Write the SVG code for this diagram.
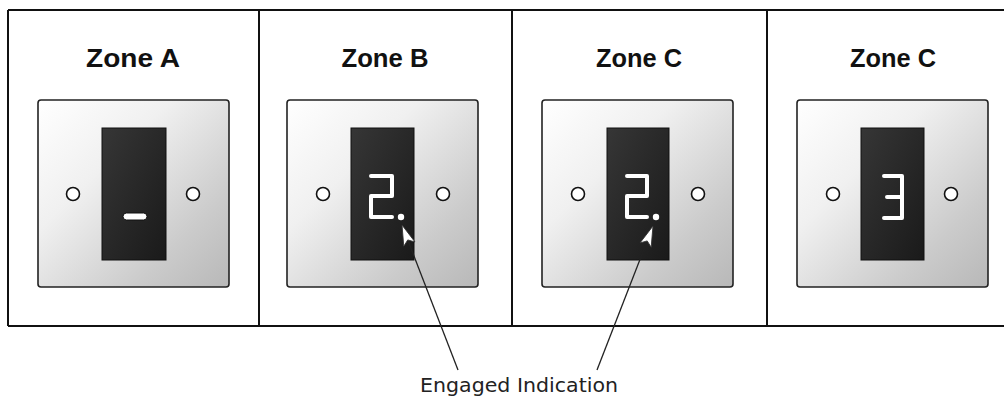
<svg xmlns="http://www.w3.org/2000/svg" width="1004" height="397" viewBox="0 0 1004 397">
<style>
.title{font-family:"Liberation Sans",Arial,sans-serif;font-weight:bold;font-size:26px;fill:#111;text-anchor:middle}
.plate{fill:url(#plateGrad);stroke:#222;stroke-width:1.6}
.disp{fill:url(#dispGrad);stroke:#111;stroke-width:1}
.led{fill:#fff;stroke:#111;stroke-width:1.6}
.seg{fill:none;stroke:#fff;stroke-width:4;stroke-linecap:round;stroke-linejoin:round}
.frame{fill:none;stroke:#111;stroke-width:2}
.conn{stroke:#222;stroke-width:1.3;fill:none}
.label{font-family:"DejaVu Sans",Verdana,sans-serif;font-size:19px;fill:#222}
</style>
<defs>
<linearGradient id="plateGrad" x1="0" y1="0" x2="1" y2="1">
<stop offset="0" stop-color="#ffffff"/>
<stop offset="0.35" stop-color="#f0f0f0"/>
<stop offset="0.75" stop-color="#cbcbcb"/>
<stop offset="1" stop-color="#b8b8b8"/>
</linearGradient>
<linearGradient id="dispGrad" x1="0" y1="0" x2="1" y2="1">
<stop offset="0" stop-color="#363636"/>
<stop offset="1" stop-color="#1a1a1a"/>
</linearGradient>
<marker id="arr" viewBox="0 0 22 14" refX="21" refY="7" markerWidth="22" markerHeight="14" markerUnits="userSpaceOnUse" orient="auto">
<path d="M0.5,1 L21,7 L0.5,13 L5,7 Z" fill="#fff" stroke="#333" stroke-width="0.8"/>
</marker>
</defs>
<rect width="1004" height="397" fill="#fff"/>
<g id="frame">
<line class="frame" x1="8" y1="10" x2="1004" y2="10"/>
<line class="frame" x1="8" y1="326" x2="1004" y2="326"/>
<line class="frame" x1="8" y1="10" x2="8" y2="326"/>
<line class="frame" x1="259" y1="10" x2="259" y2="326"/>
<line class="frame" x1="512" y1="10" x2="512" y2="326"/>
<line class="frame" x1="767" y1="10" x2="767" y2="326"/>
</g>
<g id="zoneA">
<text class="title" x="133" y="67" textLength="94" lengthAdjust="spacingAndGlyphs">Zone A</text>
<rect class="plate" x="38" y="100" width="191" height="187" rx="3"/>
<rect class="disp" x="102" y="128" width="64" height="132"/>
<circle class="led" cx="73" cy="194" r="6.5"/>
<circle class="led" cx="193" cy="194" r="6.5"/>
<rect x="123" y="213" width="24" height="7" rx="3.5" fill="#fff" stroke="#111" stroke-width="1"/>
</g>
<g id="zoneB">
<text class="title" x="385" y="67" textLength="87" lengthAdjust="spacingAndGlyphs">Zone B</text>
<rect class="plate" x="287" y="100" width="191" height="187" rx="3"/>
<rect class="disp" x="351" y="128" width="63" height="132"/>
<circle class="led" cx="323" cy="194" r="6.5"/>
<circle class="led" cx="443" cy="194" r="6.5"/>
<path class="seg" d="M371,176 H392 V196 H371 V217 H392"/>
<circle cx="401" cy="217" r="3.2" fill="#fff"/>
</g>
<g id="zoneC">
<text class="title" x="639" y="67" textLength="86" lengthAdjust="spacingAndGlyphs">Zone C</text>
<rect class="plate" x="542" y="100" width="191" height="187" rx="3"/>
<rect class="disp" x="607" y="128" width="62" height="132"/>
<circle class="led" cx="578" cy="194" r="6.5"/>
<circle class="led" cx="698" cy="194" r="6.5"/>
<path class="seg" d="M627,176 H647 V196 H627 V217 H647"/>
<circle cx="656" cy="217" r="3.2" fill="#fff"/>
</g>
<g id="zoneD">
<text class="title" x="893" y="67" textLength="86" lengthAdjust="spacingAndGlyphs">Zone C</text>
<rect class="plate" x="797" y="100" width="191" height="187" rx="3"/>
<rect class="disp" x="861" y="128" width="63" height="132"/>
<circle class="led" cx="833" cy="194" r="6.5"/>
<circle class="led" cx="951" cy="194" r="6.5"/>
<path class="seg" d="M884,176 H902 V218 H884 M887,197 H902"/>
</g>
<g id="connectors">
<line class="conn" x1="458" y1="370" x2="402" y2="225" marker-end="url(#arr)"/>
<line class="conn" x1="597" y1="370" x2="653" y2="226" marker-end="url(#arr)"/>
</g>
<g id="label">
<text class="label" x="519" y="392" text-anchor="middle" textLength="198" lengthAdjust="spacingAndGlyphs">Engaged Indication</text>
</g>
</svg>
